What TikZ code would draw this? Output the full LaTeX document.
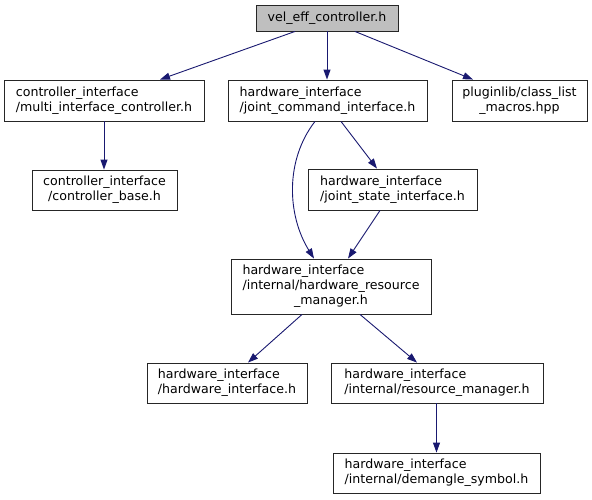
\documentclass[tikz,border=0pt]{standalone}
\usepackage{fontspec}
\setmainfont{DejaVu Sans}
\usetikzlibrary{arrows.meta}
\definecolor{edgeblue}{HTML}{191970}
\definecolor{rootgrey}{HTML}{BFBFBF}
\newcommand{\twoL}[2]{\begin{tabular}{@{}l@{}}#1\\#2\end{tabular}}
\newcommand{\twoC}[2]{\begin{tabular}{@{}c@{}}#1\\#2\end{tabular}}
\tikzset{
  filebox/.style={draw=black!85, line width=0.9pt, fill=white, rectangle, inner sep=0pt,
    font=\fontsize{12.6}{15}\selectfont},
  rootbox/.style={filebox, fill=rootgrey},
  dep/.style={draw=edgeblue, line width=0.9pt, -{Triangle[length=10pt,width=7pt]}},
}
\begin{document}
\begin{tikzpicture}[x=1pt,y=-1pt]
\useasboundingbox (0,0) rectangle (592,499);
\node[rootbox, minimum width=142pt, minimum height=26pt] (vel) at (327,18) {vel\_eff\_controller.h};
\node[filebox, minimum width=200pt, minimum height=41pt] (multi) at (104,100.5)
  {\twoL{controller\_interface}{/multi\_interface\_controller.h}};
\node[filebox, minimum width=199pt, minimum height=41pt] (jci) at (327.5,100.5)
  {\twoL{hardware\_interface}{/joint\_command\_interface.h}};
\node[filebox, minimum width=135pt, minimum height=41pt] (plugin) at (519.5,100.5)
  {\twoC{pluginlib/class\_list}{\_macros.hpp}};
\node[filebox, minimum width=145pt, minimum height=40pt] (base) at (104.5,190)
  {\twoC{controller\_interface}{/controller\_base.h}};
\node[filebox, minimum width=169pt, minimum height=41pt] (jsi) at (392.5,189.5)
  {\twoL{hardware\_interface}{/joint\_state\_interface.h}};
\node[filebox, minimum width=200pt, minimum height=55pt] (hrm) at (331,286.5)
  {\begin{tabular}{@{}l@{}}hardware\_interface\\/internal/hardware\_resource\\\multicolumn{1}{@{}c@{}}{\_manager.h}\end{tabular}};
\node[filebox, minimum width=160pt, minimum height=40pt] (hi) at (227,383)
  {\twoL{hardware\_interface}{/hardware\_interface.h}};
\node[filebox, minimum width=212pt, minimum height=40pt] (rm) at (437,383)
  {\twoL{hardware\_interface}{/internal/resource\_manager.h}};
\node[filebox, minimum width=207pt, minimum height=40pt] (dem) at (436.5,473)
  {\twoL{hardware\_interface}{/internal/demangle\_symbol.h}};

\draw[dep] ([xshift=-32pt]vel.south) -- ([xshift=56pt]multi.north);
\draw[dep] (vel.south) -- (vel.south |- jci.north);
\draw[dep] ([xshift=28pt]vel.south) -- ([xshift=-46.5pt]plugin.north);
\draw[dep] (multi.south) -- (multi.south |- base.north);
\draw[dep] ([xshift=-12.5pt]jci.south) .. controls (285,160) and (287,215) .. ([xshift=-17pt]hrm.north);
\draw[dep] ([xshift=13.5pt]jci.south) -- ([xshift=-15.5pt]jsi.north);
\draw[dep] ([xshift=-12.5pt]jsi.south) -- ([xshift=17pt]hrm.north);
\draw[dep] ([xshift=-29pt]hrm.south) -- ([xshift=21pt]hi.north);
\draw[dep] ([xshift=29pt]hrm.south) -- ([xshift=-20pt]rm.north);
\draw[dep] ([xshift=-0.5pt]rm.south) -- (dem.north);
\end{tikzpicture}
\end{document}
